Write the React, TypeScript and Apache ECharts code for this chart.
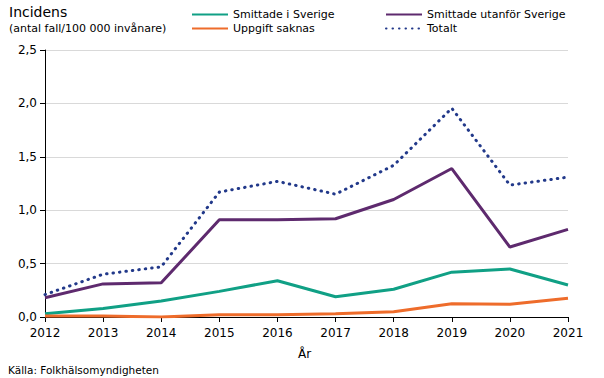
import React, { useEffect, useRef } from "react";
import * as echarts from "echarts";

const years = ["2012", "2013", "2014", "2015", "2016", "2017", "2018", "2019", "2020", "2021"];
const smittadeISverige = [0.03, 0.08, 0.15, 0.24, 0.34, 0.19, 0.26, 0.42, 0.45, 0.3];
const smittadeUtanfor = [0.18, 0.31, 0.32, 0.91, 0.91, 0.92, 1.1, 1.39, 0.655, 0.82];
const uppgiftSaknas = [0.01, 0.01, 0.0, 0.02, 0.02, 0.03, 0.05, 0.125, 0.12, 0.175];
const totalt = [0.21, 0.4, 0.47, 1.17, 1.27, 1.15, 1.42, 1.955, 1.235, 1.31];

const FONT = "DejaVu Sans";

export default function App() {
  const ref = useRef<HTMLDivElement>(null);
  useEffect(() => {
    if (!ref.current) return;
    const chart = echarts.init(ref.current, null, { renderer: "svg" });
    const legendText = { fontFamily: FONT, fontSize: 11, color: "#000" };
    const legendBase = {
      orient: "vertical",
      top: 4,
      itemWidth: 36,
      itemHeight: 12,
      itemGap: 3,
      textStyle: legendText,
      itemStyle: { opacity: 0 },
    };
    chart.setOption({
      animation: false,
      backgroundColor: "#fff",
      grid: { left: 45, right: 36, top: 50, bottom: 61, containLabel: false },
      legend: [
        { ...legendBase, data: ["Smittade i Sverige", "Uppgift saknas"], left: 186 },
        { ...legendBase, data: ["Smittade utanför Sverige", "Totalt"], left: 380 },
      ],
      xAxis: {
        type: "category",
        data: years,
        boundaryGap: false,
        axisLine: { lineStyle: { color: "#000", width: 1 } },
        axisTick: { show: true, length: 5, lineStyle: { color: "#000" } },
        axisLabel: { fontFamily: FONT, fontSize: 12, color: "#000", margin: 10 },
      },
      yAxis: {
        type: "value",
        min: 0,
        max: 2.5,
        interval: 0.5,
        axisLine: { show: true, lineStyle: { color: "#000", width: 1 } },
        axisTick: { show: true, length: 5, lineStyle: { color: "#000" } },
        axisLabel: {
          fontFamily: FONT,
          fontSize: 12,
          color: "#000",
          margin: 8,
          formatter: (v: number) => v.toFixed(1).replace(".", ","),
        },
        splitLine: { lineStyle: { color: "#d9d9d9", width: 1 } },
      },
      graphic: [
        { type: "text", left: 9, top: 5, style: { text: "Incidens", fontFamily: FONT, fontSize: 14, fill: "#000" } },
        {
          type: "text",
          left: 9,
          top: 23,
          style: { text: "(antal fall/100 000 invånare)", fontFamily: FONT, fontSize: 11, fill: "#000" },
        },
        { type: "text", left: 298, top: 348, style: { text: "År", fontFamily: FONT, fontSize: 12, fill: "#000" } },
        {
          type: "text",
          left: 8,
          top: 364,
          style: { text: "Källa: Folkhälsomyndigheten", fontFamily: FONT, fontSize: 10.5, fill: "#000" },
        },
      ],
      series: [
        {
          name: "Smittade i Sverige",
          type: "line",
          data: smittadeISverige,
          symbol: "none",
          color: "#10a085",
          lineStyle: { width: 3, color: "#10a085" },
          z: 3,
        },
        {
          name: "Uppgift saknas",
          type: "line",
          data: uppgiftSaknas,
          symbol: "none",
          color: "#ee6c2b",
          lineStyle: { width: 3, color: "#ee6c2b" },
          z: 4,
        },
        {
          name: "Smittade utanför Sverige",
          type: "line",
          data: smittadeUtanfor,
          symbol: "none",
          color: "#5e2a6e",
          lineStyle: { width: 3, color: "#5e2a6e" },
          z: 3,
        },
        {
          name: "Totalt",
          type: "line",
          data: totalt,
          symbol: "none",
          color: "#22398a",
          lineStyle: { width: 3, color: "#22398a", type: [0.5, 6], cap: "round" },
          z: 2,
        },
      ],
    });
    return () => chart.dispose();
  }, []);
  return <div ref={ref} style={{ width: 604, height: 378, position: "absolute", left: 0, top: 0 }} />;
}
